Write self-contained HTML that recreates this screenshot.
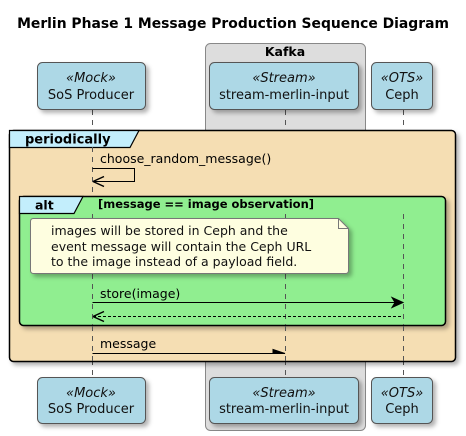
<!DOCTYPE html>
<html><head><meta charset="utf-8"><style>body{margin:0;background:#fff}svg{display:block}</style></head><body>
<svg width="466" height="436" xmlns="http://www.w3.org/2000/svg" font-family="'DejaVu Sans','Liberation Sans',sans-serif">
<defs><filter id="s" x="-10%" y="-10%" width="130%" height="130%"><feDropShadow dx="3" dy="3" stdDeviation="2" flood-color="#000" flood-opacity="0.3"/></filter></defs>
<text x="233" y="28" text-anchor="middle" font-size="13.9" font-weight="bold">Merlin Phase 1 Message Production Sequence Diagram</text>
<rect x="205.5" y="43.5" width="160" height="387" rx="5" fill="#dddddd" stroke="#888"/>
<text x="285" y="56" text-anchor="middle" font-size="12.5" font-weight="bold">Kafka</text>
<g stroke="#555" stroke-dasharray="5,5" stroke-width="1"><line x1="92.5" y1="110" x2="92.5" y2="377"/><line x1="285.5" y1="110" x2="285.5" y2="377"/><line x1="403.5" y1="110" x2="403.5" y2="377"/></g>
<g fill="#add8e6" stroke="#555" filter="url(#s)">
<rect x="37.5" y="62.5" width="108" height="47" rx="5"/><rect x="209.5" y="62.5" width="149" height="47" rx="5"/><rect x="371.5" y="62.5" width="61" height="47" rx="5"/>
<rect x="37.5" y="377.5" width="108" height="46" rx="5"/><rect x="209.5" y="377.5" width="149" height="46" rx="5"/><rect x="371.5" y="377.5" width="61" height="46" rx="5"/>
</g>
<g font-size="13" text-anchor="middle" fill="#111">
<text x="91" y="82" font-style="italic">«Mock»</text><text x="91" y="99">SoS Producer</text>
<text x="284" y="82" font-style="italic">«Stream»</text><text x="284" y="99">stream-merlin-input</text>
<text x="402" y="82" font-style="italic">«OTS»</text><text x="402" y="99">Ceph</text>
<text x="91" y="397" font-style="italic">«Mock»</text><text x="91" y="413">SoS Producer</text>
<text x="284" y="397" font-style="italic">«Stream»</text><text x="284" y="413">stream-merlin-input</text>
<text x="402" y="397" font-style="italic">«OTS»</text><text x="402" y="413">Ceph</text>
</g>
<rect x="9.5" y="130.5" width="446" height="231" rx="4" fill="#f5deb3" stroke="#000" stroke-width="1.5" filter="url(#s)"/>
<path d="M9.5 147.5 H130 L139 130.5 H9.5 Z" fill="#c3eefc" stroke="#000" stroke-width="1.2"/>
<text x="25" y="143.5" font-size="13" font-weight="bold">periodically</text>
<line x1="92.5" y1="147" x2="92.5" y2="196" stroke="#555" stroke-dasharray="5,5"/>
<text x="100" y="163" font-size="12.5">choose_random_message()</text>
<path d="M92.5 168.5 H134.5 V181.5 H93" fill="none" stroke="#000"/>
<path d="M93 181.5 l11 -5 M93 181.5 l11 5" stroke="#000" stroke-width="1.5"/>
<rect x="19.5" y="196.5" width="426" height="129" rx="4" fill="#90ee90" stroke="#000" stroke-width="1.5" filter="url(#s)"/>
<path d="M19.5 213.5 H74 L83 196.5 H19.5 Z" fill="#c3eefc" stroke="#000" stroke-width="1.2"/>
<text x="35" y="209.5" font-size="12.5" font-weight="bold">alt</text>
<text x="98" y="208" font-size="11.5" font-weight="bold">[message == image observation]</text>
<g stroke="#555" stroke-dasharray="5,5"><line x1="92.5" y1="214" x2="92.5" y2="325"/><line x1="285.5" y1="214" x2="285.5" y2="325"/><line x1="403.5" y1="214" x2="403.5" y2="325"/><line x1="92.5" y1="326" x2="92.5" y2="362"/><line x1="285.5" y1="326" x2="285.5" y2="362"/><line x1="403.5" y1="326" x2="403.5" y2="362"/></g>
<path d="M33.5 218.5 H338.5 L348.5 228.5 V270.5 Q348.5 273.5 345.5 273.5 H33.5 Q30.5 273.5 30.5 270.5 V221.5 Q30.5 218.5 33.5 218.5 Z" fill="#fefee0" stroke="#777" filter="url(#s)"/>
<path d="M338.5 218.5 V228.5 H348.5" fill="none" stroke="#777"/>
<g font-size="12.5" fill="#111"><text x="51" y="235">images will be stored in Ceph and the</text><text x="51" y="251">event message will contain the Ceph URL</text><text x="51" y="266">to the image instead of a payload field.</text></g>
<text x="100" y="298" font-size="12.5">store(image)</text>
<line x1="92.5" y1="302.5" x2="402" y2="302.5" stroke="#000"/>
<path d="M403 302.5 l-11 -5 l3 5 l-3 5 z" fill="#000" stroke="#000"/>
<line x1="93" y1="316.5" x2="403" y2="316.5" stroke="#000" stroke-dasharray="3,2"/>
<path d="M93 316.5 l11 -5 M93 316.5 l11 5" stroke="#000" stroke-width="1.5"/>
<text x="100" y="348" font-size="12.5">message</text>
<line x1="92.5" y1="353.5" x2="285" y2="353.5" stroke="#000"/>
<path d="M285 353.5 l-12 -4 v4 z" fill="#000" stroke="#000"/>
</svg>
</body></html>
